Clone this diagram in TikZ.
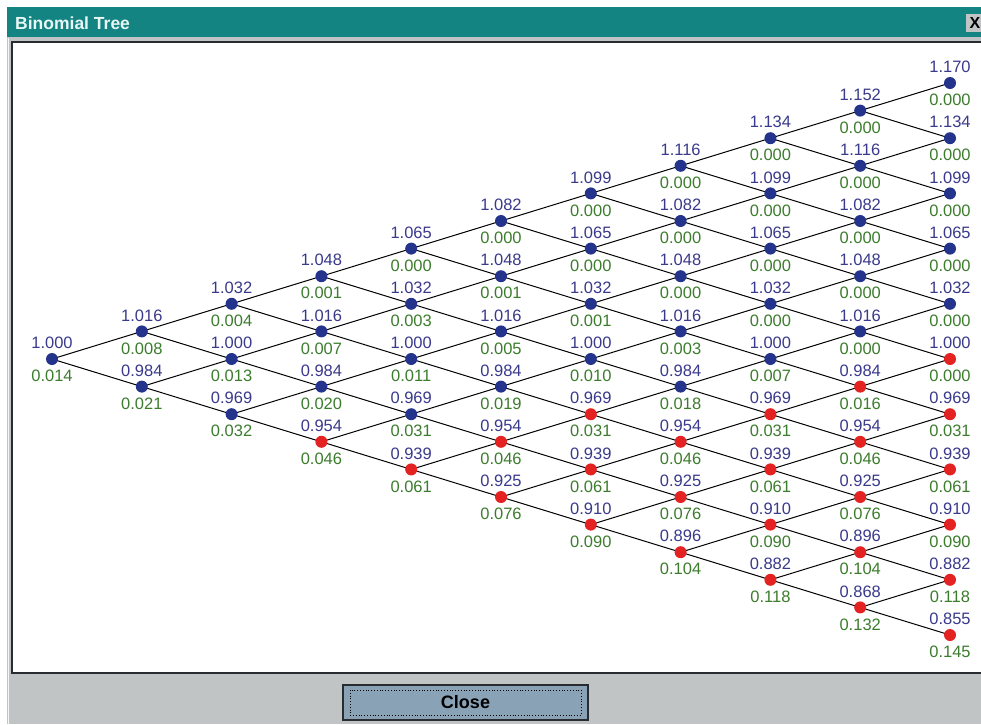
\documentclass[tikz,border=0pt]{standalone}
\usepackage{fontspec}
\setmainfont{Liberation Sans}
\definecolor{tealbar}{RGB}{20,132,130}
\definecolor{titletxt}{RGB}{232,246,246}
\definecolor{wingray}{RGB}{192,196,196}
\definecolor{frameline}{RGB}{40,44,48}
\definecolor{btnfill}{RGB}{138,162,182}
\definecolor{dotblue}{RGB}{36,52,140}
\definecolor{dotred}{RGB}{228,34,34}
\definecolor{pricecol}{RGB}{58,58,140}
\definecolor{optcol}{RGB}{60,125,45}
\pgfdeclarelayer{chrome}
\pgfdeclarelayer{edges}
\pgfsetlayers{chrome,edges,main}
\begin{document}
\begin{tikzpicture}[x=1pt,y=-1pt,
  dot/.style={circle,inner sep=0pt,minimum size=12pt,draw=none},
  pricelbl/.style={inner sep=0pt,text=pricecol,font=\fontsize{16.5}{18}\selectfont},
  optlbl/.style={inner sep=0pt,text=optcol,font=\fontsize{16.5}{18}\selectfont},
  edge/.style={draw=black,line width=1pt},
  titletext/.style={inner sep=0pt,text=titletxt,font=\fontsize{17.5}{20}\selectfont\bfseries},
  closebtn/.style={draw=frameline,line width=1.6pt,fill=btnfill,minimum width=245pt,minimum height=35pt,inner sep=0pt,font=\fontsize{18}{20}\selectfont\bfseries}]
\useasboundingbox (0,0) rectangle (981,724);
\begin{pgfonlayer}{chrome}
  \fill[white] (0,0) rectangle (981,724);
  \fill[wingray] (7,7) rectangle (981,724);
  \fill[tealbar] (7,7) rectangle (981,37);
  \fill[white] (12,42) rectangle (981,673);
  \draw[frameline,line width=1.6pt] (981,42) -- (12,42) -- (12,673) -- (981,673);
  \draw[white!85!wingray,line width=1pt] (8,38) -- (8,724);
  \fill[wingray] (966,14) rectangle (981,32);
\end{pgfonlayer}
\node[titletext,anchor=west] (title) at (15,23) {Binomial Tree};
\node[inner sep=0pt,font=\fontsize{16}{18}\selectfont\bfseries] (xbtn) at (975,23) {X};
\node[closebtn] (close) at (465.5,702.5) {Close};
\draw[black,dotted,line width=0.8pt] (350,690) rectangle (581,715);
% prices by level
\foreach \L/\p in {-10/1.170,-9/1.152,-8/1.134,-7/1.116,-6/1.099,-5/1.082,-4/1.065,-3/1.048,-2/1.032,-1/1.016,0/1.000,1/0.984,2/0.969,3/0.954,4/0.939,5/0.925,6/0.910,7/0.896,8/0.882,9/0.868,10/0.855}
  {\expandafter\xdef\csname pr\L\endcsname{\p}}
\foreach \i/\opts/\thr in {
  0/{0.014}/99,
  1/{0.008,0.021}/99,
  2/{0.004,0.013,0.032}/99,
  3/{0.001,0.007,0.020,0.046}/3,
  4/{0.000,0.003,0.011,0.031,0.061}/4,
  5/{0.000,0.001,0.005,0.019,0.046,0.076}/3,
  6/{0.000,0.000,0.001,0.010,0.031,0.061,0.090}/2,
  7/{0.000,0.000,0.000,0.003,0.018,0.046,0.076,0.104}/3,
  8/{0.000,0.000,0.000,0.000,0.007,0.031,0.061,0.090,0.118}/2,
  9/{0.000,0.000,0.000,0.000,0.000,0.016,0.046,0.076,0.104,0.132}/1,
  10/{0.000,0.000,0.000,0.000,0.000,0.000,0.031,0.061,0.090,0.118,0.145}/0}{
  \foreach \v [count=\jj from 0] in \opts {
    \pgfmathtruncatemacro\L{2*\jj-\i}
    \pgfmathsetmacro\xx{52+89.8*\i}
    \pgfmathsetmacro\yy{359+27.6*\L}
    \ifnum\L<\thr\relax \def\dc{dotblue}\else \def\dc{dotred}\fi
    \node[dot,fill=\dc] (n-\i-\jj) at (\xx,\yy) {};
    \node[pricelbl] (p-\i-\jj) at (\xx,\yy-16) {\csname pr\L\endcsname};
    \node[optlbl] (o-\i-\jj) at (\xx,\yy+17) {\v};
  }
}
\begin{pgfonlayer}{edges}
\foreach \i in {0,...,9} {
  \pgfmathtruncatemacro\ni{\i+1}
  \foreach \jj in {0,...,\i} {
    \pgfmathtruncatemacro\nj{\jj+1}
    \draw[edge] (n-\i-\jj.center) -- (n-\ni-\jj.center);
    \draw[edge] (n-\i-\jj.center) -- (n-\ni-\nj.center);
  }
}
\end{pgfonlayer}
\end{tikzpicture}
\end{document}
